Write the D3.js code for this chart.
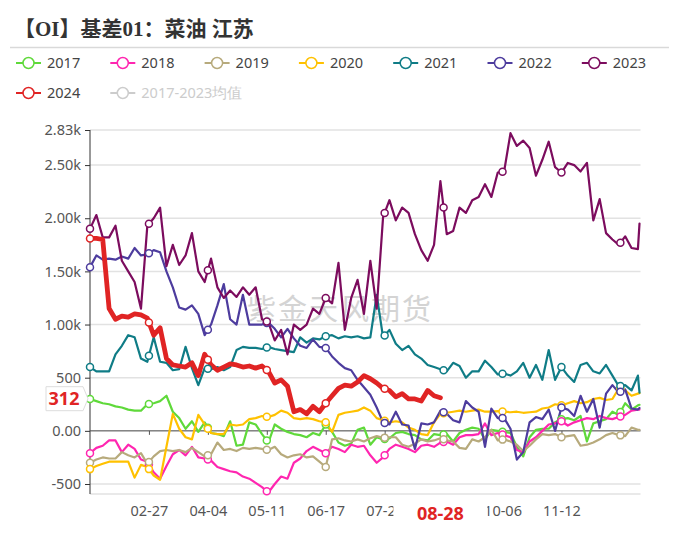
<!DOCTYPE html>
<html><head><meta charset="utf-8">
<script src="https://cdn.jsdelivr.net/npm/d3@7"></script>
<style>body{margin:0;background:#fff}svg{display:block}</style>
</head><body><svg id="c" width="679" height="547"></svg>
<script>
// ---------- data ----------
const title = "【OI】基差01：菜油 江苏";
const years = ["2017","2018","2019","2020","2021","2022","2023","2024"];
const meanLabel = "2017-2023均值";
const colors = ["#5fd93a","#ff26b0","#b7aa7c","#ffc100","#0f7c86","#4d3c9e","#7c0c5e","#e02424"];
const xTickValues = ["02-27","04-04","05-11","06-17","07-24","08-30","10-06","11-12"];
const xTickLabels = ["02-27","04-04","05-11","06-17","07-24","10-06","11-12"]; // 08-30 hidden under current label
const markerDates = ["01-21","02-27","04-04","05-11","06-17","07-24","08-30","10-06","11-12","12-19"];
const yTickValues = [2830,2500,2000,1500,1000,500,0,-500];
const yTickLabels = ["2.83k","2.50k","2.00k","1.50k","1.00k","500","0.00","-500"];
const currentDate = "08-28";
const currentValue = 312;
const watermark = "紫金天风期货";

// values sampled every 4 days from 01-21 (last one = 12-31)
const s2017 = [300,280,260,250,230,220,200,190,190,250, 260,280,330,180,120,20,90,-10,80,-20,
  -30,-50,90,-140,-130,80,60,-30,-110,60, 20,-10,-30,-40,-60,-20,-40,60,-10,-110,
  -140,-120,10,30,-130,-60,-80,-70,-20,-10, -30,-40,-80,-90,-30,-40,-30,-100,-20,10,
  30,20,-80,10,0,-10,-20,-150,-240,-60, 10,20,20,80,110,120,100,140,-100,70,
  90,110,180,150,260,200,240,245];
const s2018 = [-210,-160,-140,-90,-90,-200,-130,-170,-270,-290, -390,-450,-330,-220,-180,-230,-150,-250,-260,-280,
  -340,-360,-380,-390,-430,-450,-490,-530,-580,-500, -430,-450,-300,-260,-190,-150,-180,-210,-150,-170,
  -200,-130,-150,-140,-230,-300,-250,-170,-130,-150, -170,-200,-140,-130,-150,-110,-100,-130,-60,-40,
  -40,-30,70,-40,-20,-40,-60,-180,-200,-100, -60,0,60,70,90,50,80,100,120,110,
  140,120,110,130,150,190,200,200];
const s2019 = [-300,-270,-250,-260,-260,-200,-230,-250,-210,-310, -240,-190,-180,-190,-180,-200,-160,-200,-240,-220,
  -110,-180,-170,-190,-160,-170,-160,-170,-180,-150, -220,-250,-230,-220,-250,-240,-290,-340,-80,-70,
  -90,-100,-80,-100,-70,-50,-65,-60,-60,-130, -150,-120,-80,-100,-90,-70,-90,-100,-160,-170,
  -80,-100,-60,10,-90,-80,-100,-130,-190,-140, -80,-30,-40,-30,-60,-50,-40,-140,-130,-110,
  -80,-40,-20,-40,-50,30,10,10];
const s2020 = [-360,-330,-310,-290,-290,-290,-290,-440,-320,-340, -420,-460,-150,160,20,-60,-80,150,60,-20,
  -30,-30,60,50,60,110,120,140,130,150, 190,170,120,110,120,110,90,80,-10,150,
  170,180,190,220,190,120,100,80,90,80, 30,10,-30,-40,80,160,170,180,190,180,
  190,200,180,180,185,180,175,180,170,175, 180,210,220,250,240,260,280,260,270,300,
  310,290,300,400,380,330,350,355];
const s2021 = [600,560,560,560,720,800,900,880,680,650, 880,650,640,570,580,790,590,430,590,580,
  600,570,600,760,790,780,780,770,790,770, 760,750,740,880,830,870,860,890,900,870,
  890,880,890,870,880,1280,880,950,820,760, 800,720,680,620,600,580,560,640,610,500,
  560,560,660,600,530,540,520,560,640,500, 620,480,760,480,600,520,460,620,640,560,
  540,620,520,420,430,380,520,360];
const s2022 = [1540,1650,1610,1620,1610,1640,1620,1720,1650,1660, 1700,1680,1500,1350,1160,1140,1180,1100,900,1000,
  1180,1380,1050,1000,1280,1000,1000,1000,1020,960, 880,960,870,800,780,860,790,780,700,640,
  590,570,480,410,340,220,80,60,180,60, 50,-170,70,60,80,190,160,100,80,280,
  220,180,-150,210,120,120,20,-270,-200,80, 130,110,200,0,220,200,140,330,180,300,
  30,350,430,360,390,210,200,215];
const s2023 = [1900,2030,1820,1820,1930,1600,1500,1400,1150,1930, 2000,2100,1550,1750,1560,1650,1860,1500,1400,1620,
  1350,1250,1320,1260,1350,1280,1350,1050,1020,850, 950,720,1000,950,1000,1150,1100,1250,1200,1580,
  950,1250,1420,1100,1600,1150,2010,2170,1980,2100, 2050,1850,1700,1600,1750,2350,1850,1880,2100,2050,
  2170,2200,2320,2200,2430,2440,2800,2680,2730,2660, 2400,2550,2720,2480,2430,2520,2500,2440,2520,1980,
  2180,1860,1800,1750,1830,1720,1710,1950];
const s2024 = [1810,1810,1800,1150,1050,1080,1070,1100,1090,1060, 900,970,680,620,610,600,640,520,720,620,
  570,600,630,620,600,610,590,610,560,450, 480,420,180,200,160,230,180,260,330,400,
  430,420,460,520,490,450,400,380,320,350, 300,300,280,380,330,312];
const seriesValues = [s2017,s2018,s2019,s2020,s2021,s2022,s2023,s2024];

// ---------- layout ----------
const svg = d3.select("#c");
const fmt = d3.timeFormat("%m-%d");
const categories = d3.timeDay.range(new Date(2024,0,21), new Date(2025,0,1)).map(fmt);
const sampleIdx = d3.range(0, categories.length - 1, 4).concat([categories.length - 1]);
const sampleDates = sampleIdx.map(i => categories[i]);

const plotL = 90, plotR = 639.5, plotT = 130, plotB = 494;
const x = d3.scalePoint().domain(categories).range([plotL, plotR]);
const y = d3.scaleLinear().domain([-594, 2830]).range([plotB, plotT]);
const FONT = "'Noto Sans','Open Sans',sans-serif";

// title
svg.append("text").attr("x", 14).attr("y", 36)
  .attr("font-family", "'Liberation Serif','Noto Sans CJK SC',serif")
  .attr("font-weight", "bold").attr("font-size", 21).attr("fill", "#333").text(title);
svg.append("line").attr("x1", 10).attr("x2", 669).attr("y1", 47.5).attr("y2", 47.5)
  .attr("stroke", "#d9d9d9").attr("stroke-width", 1.5);

// legend
const legendItems = years.map((yr, i) => ({label: yr, color: colors[i], on: true}))
  .concat([{label: meanLabel, color: "#ccc", on: false}]);
legendItems.forEach((d, i) => {
  const row = i < 7 ? 0 : 1, col = i < 7 ? i : i - 7;
  const x0 = 16 + col * 94.3, yy = row === 0 ? 63 : 93;
  const g = svg.append("g");
  g.append("line").attr("x1", x0).attr("x2", x0 + 25).attr("y1", yy).attr("y2", yy)
    .attr("stroke", d.color).attr("stroke-width", 2);
  g.append("circle").attr("cx", x0 + 12.5).attr("cy", yy).attr("r", 5.5)
    .attr("fill", "#fff").attr("stroke", d.color).attr("stroke-width", 1.5);
  g.append("text").attr("x", x0 + 31).attr("y", yy).attr("dy", "0.35em")
    .attr("font-family", FONT).attr("font-size", 14.5)
    .attr("fill", d.on ? "#444" : "#ccc").text(d.label);
});

// watermark
svg.append("text").attr("x", 340).attr("y", 320).attr("text-anchor", "middle")
  .attr("font-family", "'Noto Sans CJK SC',sans-serif").attr("font-size", 29)
  .attr("letter-spacing", 2).attr("fill", "#d4d4d4").text(watermark);

// grid
const gridVals = yTickValues.concat([-594]);
svg.append("g").selectAll("line").data(gridVals).join("line")
  .attr("x1", plotL).attr("x2", plotR + 1).attr("y1", d => y(d)).attr("y2", d => y(d))
  .attr("stroke", "#e2e2e2").attr("stroke-width", 1.5);

// y axis
const yAxis = d3.axisLeft(y).tickValues(yTickValues).tickSize(5).tickPadding(4)
  .tickFormat((d, i) => yTickLabels[i]);
const gy = svg.append("g").attr("transform", `translate(${plotL},0)`).call(yAxis);
gy.select(".domain").attr("stroke", "#333").attr("d", `M0,${plotT}V${plotB}`);
gy.selectAll(".tick line").attr("stroke", "#333");
gy.selectAll(".tick text").attr("font-family", FONT).attr("font-size", 14.5).attr("fill", "#555");

// x axis on zero line
const xAxis = d3.axisBottom(x).tickValues(xTickValues).tickSize(4).tickFormat(() => "");
const gx = svg.append("g").attr("transform", `translate(0,${y(0)})`).call(xAxis);
gx.select(".domain").attr("stroke", "#555").attr("d", `M${plotL},0H${plotR + 1}`);
gx.selectAll(".tick line").attr("stroke", "#555");
// x labels at bottom
const xLab = d3.axisBottom(x).tickValues(xTickLabels).tickSize(0).tickPadding(12);
const gxl = svg.append("g").attr("transform", `translate(0,${plotB})`).call(xLab);
gxl.select(".domain").remove();
gxl.selectAll(".tick text").attr("font-family", FONT).attr("font-size", 14.5).attr("fill", "#555");

// lines
const line = d3.line().defined(d => d.v != null).x(d => x(d.date)).y(d => y(d.v));
seriesValues.forEach((vals, si) => {
  const pts = sampleDates.map((dt, i) => ({date: dt, v: i < vals.length ? vals[i] : null}));
  svg.append("path").datum(pts).attr("d", line).attr("fill", "none")
    .attr("stroke", colors[si]).attr("stroke-width", si === 7 ? 4.8 : 2.2)
    .attr("stroke-linejoin", "round").attr("stroke-linecap", "round");
});
// markers (placed on the drawn line)
seriesValues.forEach((vals, si) => {
  markerDates.forEach(md => {
    const ci = categories.indexOf(md);
    const p = ci / 4, i0 = Math.floor(p), i1 = Math.min(i0 + 1, sampleIdx.length - 1);
    if (i1 >= vals.length || vals[i0] == null || vals[i1] == null) return;
    const t = (ci - sampleIdx[i0]) / Math.max(1, sampleIdx[i1] - sampleIdx[i0]);
    const v = vals[i0] + (vals[i1] - vals[i0]) * t;
    svg.append("circle").attr("cx", x(md)).attr("cy", y(v)).attr("r", 3.5)
      .attr("fill", "#fff").attr("stroke", colors[si]).attr("stroke-width", 1.5);
  });
});

// current x label
const cxp = x(currentDate);
svg.append("rect").attr("x", cxp - 47).attr("y", 499).attr("width", 94).attr("height", 30).attr("fill", "#fff");
svg.append("text").attr("x", cxp).attr("y", 514).attr("dy", "0.36em").attr("text-anchor", "middle")
  .attr("font-family", FONT).attr("font-weight", "bold").attr("font-size", 18)
  .attr("fill", "#e02424").text(currentDate);

// current y label
const cyp = y(currentValue) + 1;
svg.append("path").attr("d", `M46,${cyp - 12}H83L88,${cyp}L83,${cyp + 12}H46Z`)
  .attr("fill", "#fff").attr("stroke", "#ddd").attr("stroke-width", 1);
svg.append("text").attr("x", 64).attr("y", cyp).attr("dy", "0.36em").attr("text-anchor", "middle")
  .attr("font-family", FONT).attr("font-weight", "bold").attr("font-size", 18)
  .attr("fill", "#e02424").text(currentValue);
</script></body></html>
